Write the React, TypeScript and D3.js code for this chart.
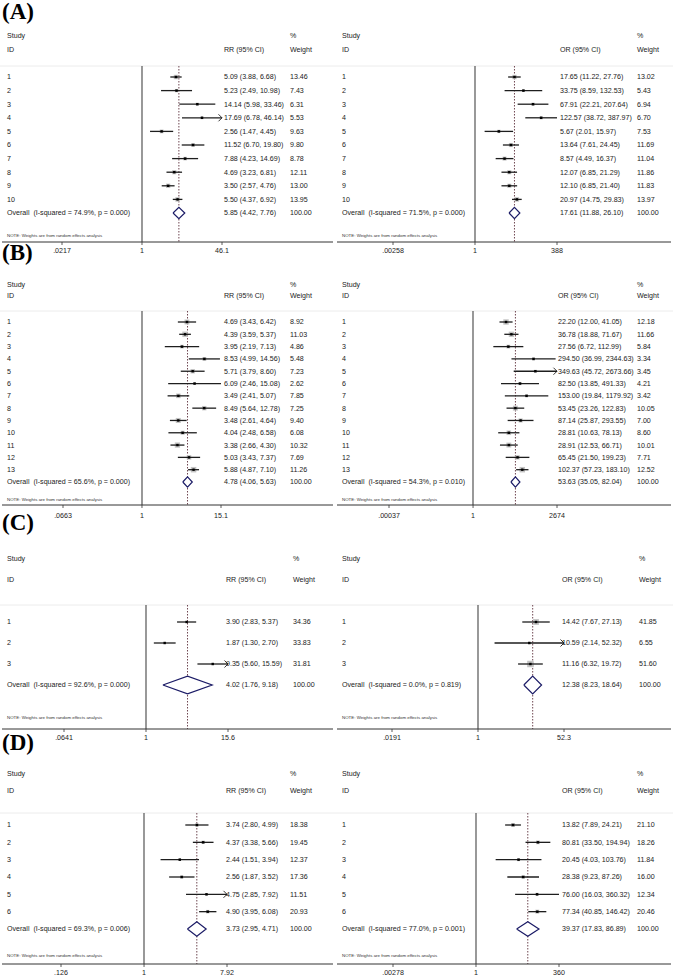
import React from "react";
import * as d3 from "d3";

// ---- (A) ----
const studiesA = ["1", "2", "3", "4", "5", "6", "7", "8", "9", "10"];
const rrA = [5.09, 5.23, 14.14, 17.69, 2.56, 11.52, 7.88, 4.69, 3.5, 5.5];
const rrLoA = [3.88, 2.49, 5.98, 6.78, 1.47, 6.7, 4.23, 3.23, 2.57, 4.37];
const rrHiA = [6.68, 10.98, 33.46, 46.14, 4.45, 19.8, 14.69, 6.81, 4.76, 6.92];
const rrWtA = [13.46, 7.43, 6.31, 5.53, 9.63, 9.8, 8.78, 12.11, 13.0, 13.95];
const rrOverallA = [5.85, 4.42, 7.76];
const rrHetA = ["74.9%", "0.000"];
const rrTicksA = [".0217", "1", "46.1"];
const rrArrowsA = ["4"];

const orA = [17.65, 33.75, 67.91, 122.57, 5.67, 13.64, 8.57, 12.07, 12.1, 20.97];
const orLoA = [11.22, 8.59, 22.21, 38.72, 2.01, 7.61, 4.49, 6.85, 6.85, 14.75];
const orHiA = [27.76, 132.53, 207.64, 387.97, 15.97, 24.45, 16.37, 21.29, 21.4, 29.83];
const orWtA = [13.02, 5.43, 6.94, 6.7, 7.53, 11.69, 11.04, 11.86, 11.83, 13.97];
const orOverallA = [17.61, 11.88, 26.1];
const orHetA = ["71.5%", "0.000"];
const orTicksA = [".00258", "1", "388"];
const orArrowsA: string[] = [];

// ---- (B) ----
const studiesB = ["1", "2", "3", "4", "5", "6", "7", "8", "9", "10", "11", "12", "13"];
const rrB = [4.69, 4.39, 3.95, 8.53, 5.71, 6.09, 3.49, 8.49, 3.48, 4.04, 3.38, 5.03, 5.88];
const rrLoB = [3.43, 3.59, 2.19, 4.99, 3.79, 2.46, 2.41, 5.64, 2.61, 2.48, 2.66, 3.43, 4.87];
const rrHiB = [6.42, 5.37, 7.13, 14.56, 8.6, 15.08, 5.07, 12.78, 4.64, 6.58, 4.3, 7.37, 7.1];
const rrWtB = [8.92, 11.03, 4.86, 5.48, 7.23, 2.62, 7.85, 7.25, 9.4, 6.08, 10.32, 7.69, 11.26];
const rrOverallB = [4.78, 4.06, 5.63];
const rrHetB = ["65.6%", "0.000"];
const rrTicksB = [".0663", "1", "15.1"];
const rrArrowsB: string[] = [];

const orB = [22.2, 36.78, 27.56, 294.5, 349.63, 82.5, 153.0, 53.45, 87.14, 28.81, 28.91, 65.45, 102.37];
const orLoB = [12.0, 18.88, 6.72, 36.99, 45.72, 13.85, 19.84, 23.26, 25.87, 10.63, 12.53, 21.5, 57.23];
const orHiB = [41.05, 71.67, 112.99, 2344.63, 2673.66, 491.33, 1179.92, 122.83, 293.55, 78.13, 66.71, 199.23, 183.1];
const orWtB = [12.18, 11.66, 5.84, 3.34, 3.45, 4.21, 3.42, 10.05, 7.0, 8.6, 10.01, 7.71, 12.52];
const orOverallB = [53.63, 35.05, 82.04];
const orHetB = ["54.3%", "0.010"];
const orTicksB = [".00037", "1", "2674"];
const orArrowsB = ["5"];

// ---- (C) ----
const studiesC = ["1", "2", "3"];
const rrC = [3.9, 1.87, 9.35];
const rrLoC = [2.83, 1.3, 5.6];
const rrHiC = [5.37, 2.7, 15.59];
const rrWtC = [34.36, 33.83, 31.81];
const rrOverallC = [4.02, 1.76, 9.18];
const rrHetC = ["92.6%", "0.000"];
const rrTicksC = [".0641", "1", "15.6"];
const rrArrowsC = ["3"];

const orC = [14.42, 10.59, 11.16];
const orLoC = [7.67, 2.14, 6.32];
const orHiC = [27.13, 52.32, 19.72];
const orWtC = [41.85, 6.55, 51.6];
const orOverallC = [12.38, 8.23, 18.64];
const orHetC = ["0.0%", "0.819"];
const orTicksC = [".0191", "1", "52.3"];
const orArrowsC = ["2"];

// ---- (D) ----
const studiesD = ["1", "2", "3", "4", "5", "6"];
const rrD = [3.74, 4.37, 2.44, 2.56, 4.75, 4.9];
const rrLoD = [2.8, 3.38, 1.51, 1.87, 2.85, 3.95];
const rrHiD = [4.99, 5.66, 3.94, 3.52, 7.92, 6.08];
const rrWtD = [18.38, 19.45, 12.37, 17.36, 11.51, 20.93];
const rrOverallD = [3.73, 2.95, 4.71];
const rrHetD = ["69.3%", "0.006"];
const rrTicksD = [".126", "1", "7.92"];
const rrArrowsD = ["5"];

const orD = [13.82, 80.81, 20.45, 28.38, 76.0, 77.34];
const orLoD = [7.89, 33.5, 4.03, 9.23, 16.03, 40.85];
const orHiD = [24.21, 194.94, 103.76, 87.26, 360.32, 146.42];
const orWtD = [21.1, 18.26, 11.84, 16.0, 12.34, 20.46];
const orOverallD = [39.37, 17.83, 86.89];
const orHetD = ["77.0%", "0.001"];
const orTicksD = [".00278", "1", "360"];
const orArrowsD: string[] = [];

const SANS = "Liberation Sans, Arial, Helvetica, sans-serif";
const FS = 7.1;

type Layout = {
  x0: number; width: number; cx: number; span: number; estX: number; wX: number;
  studyY: number; idY: number; sepY: number; rowTop: number; rowBottom: number;
  axisY: number; noteY: number; tickY: number; boxMax: number;
};

type PanelData = {
  measure: string; ids: string[]; est: number[]; lo: number[]; hi: number[]; wt: number[];
  overall: number[]; het: string[]; ticks: string[]; arrows: string[];
};

function ForestPanel({ d, l }: { d: PanelData; l: Layout }) {
  const tickVals = d.ticks.map(Number);
  const x = d3.scaleLog()
    .domain([tickVals[0], tickVals[2]])
    .range([l.cx - l.span, l.cx + l.span])
    .clamp(true);
  const rows = [...d.ids, "Overall"];
  const y = d3.scalePoint<string>().domain(rows).range([l.rowTop, l.rowBottom]);
  const step = y.step();
  const maxW = d3.max(d.wt) as number;
  const box = d3.scaleSqrt().domain([0, maxW]).range([0, l.boxMax]);
  const f = d3.format(".2f");
  const [oe, ol, oh] = d.overall;
  const oy = y("Overall") as number;
  const dh = step * 0.42;
  const diamond = d3.line()([
    [x(ol), oy], [x(oe), oy - dh], [x(oh), oy], [x(oe), oy + dh], [x(ol), oy],
  ]);
  const tx = l.x0 + 7;
  const text = { fontFamily: SANS, fontSize: FS, fill: "#222" } as const;

  return (
    <g>
      <text x={tx} y={l.studyY} dy="0.35em" {...text}>Study</text>
      <text x={tx} y={l.idY} dy="0.35em" {...text}>ID</text>
      <text x={l.estX} y={l.idY} dy="0.35em" {...text}>{d.measure} (95% CI)</text>
      <text x={l.wX} y={l.studyY} dy="0.35em" {...text}>%</text>
      <text x={l.wX} y={l.idY} dy="0.35em" {...text}>Weight</text>
      <line x1={l.x0} x2={l.x0 + l.width} y1={l.sepY} y2={l.sepY} stroke="#ececec" strokeWidth={1} />

      <line x1={l.cx} x2={l.cx} y1={l.sepY} y2={l.axisY} stroke="#444" strokeWidth={1.1} />
      <line x1={x(oe)} x2={x(oe)} y1={l.sepY} y2={l.axisY} stroke="#6e4650" strokeWidth={1}
        strokeDasharray="1.5,1.5" />

      {d.ids.map((id, i) => {
        const yy = y(id) as number;
        const x1 = x(d.lo[i]);
        const x2 = x(d.hi[i]);
        const xe = x(d.est[i]);
        const s = box(d.wt[i]);
        const arrow = d.arrows.includes(id);
        return (
          <g key={id}>
            <rect x={xe - s / 2} y={yy - s / 2} width={s} height={s} fill="#c4c4c4" />
            <line x1={x1} x2={x2} y1={yy} y2={yy} stroke="#1e1e1e" strokeWidth={1.3} />
            {arrow && (
              <path d={`M${x2 - 3.5},${yy - 3.5}L${x2},${yy}L${x2 - 3.5},${yy + 3.5}`}
                fill="none" stroke="#1e1e1e" strokeWidth={0.9} />
            )}
            <rect x={xe - 1.2} y={yy - 1.2} width={2.4} height={2.4} fill="#000" />
            <text x={tx} y={yy} dy="0.35em" {...text}>{id}</text>
            <text x={l.estX} y={yy} dy="0.35em" {...text}>
              {`${f(d.est[i])} (${f(d.lo[i])}, ${f(d.hi[i])})`}
            </text>
            <text x={l.wX} y={yy} dy="0.35em" {...text}>{f(d.wt[i])}</text>
          </g>
        );
      })}

      <path d={diamond as string} fill="#fff" stroke="#1b1b66" strokeWidth={1.2} />
      <text x={tx} y={oy} dy="0.35em" {...text} style={{ whiteSpace: "pre" }}>
        {`Overall  (I-squared = ${d.het[0]}, p = ${d.het[1]})`}
      </text>
      <text x={l.estX} y={oy} dy="0.35em" {...text}>{`${f(oe)} (${f(ol)}, ${f(oh)})`}</text>
      <text x={l.wX} y={oy} dy="0.35em" {...text}>100.00</text>

      <text x={tx} y={l.noteY} dy="0.35em" fontFamily={SANS} fontSize={4.4} fill="#333">
        NOTE: Weights are from random effects analysis
      </text>
      <line x1={l.x0 + 2} x2={l.x0 + l.width - 2} y1={l.axisY} y2={l.axisY} stroke="#333" strokeWidth={1} />
      {d.ticks.map((t, i) => (
        <g key={t} transform={`translate(${x(tickVals[i])},${l.axisY})`}>
          <line y1={0} y2={3} stroke="#333" strokeWidth={0.8} />
          <text y={l.tickY - l.axisY} dy="0.35em" textAnchor="middle" {...text}>{t}</text>
        </g>
      ))}
    </g>
  );
}

const mk = (
  measure: string, ids: string[], est: number[], lo: number[], hi: number[], wt: number[],
  overall: number[], het: string[], ticks: string[], arrows: string[],
): PanelData => ({ measure, ids, est, lo, hi, wt, overall, het, ticks, arrows });

const panels: { d: PanelData; l: Layout }[] = [
  {
    d: mk("RR", studiesA, rrA, rrLoA, rrHiA, rrWtA, rrOverallA, rrHetA, rrTicksA, rrArrowsA),
    l: { x0: 0, width: 335, cx: 142, span: 80, estX: 224, wX: 290, studyY: 36, idY: 50, sepY: 66,
      rowTop: 77, rowBottom: 213, axisY: 242, noteY: 235, tickY: 251, boxMax: 4.5 },
  },
  {
    d: mk("OR", studiesA, orA, orLoA, orHiA, orWtA, orOverallA, orHetA, orTicksA, orArrowsA),
    l: { x0: 335, width: 338, cx: 475, span: 82, estX: 560, wX: 637, studyY: 36, idY: 50, sepY: 66,
      rowTop: 77, rowBottom: 213, axisY: 242, noteY: 235, tickY: 251, boxMax: 4.5 },
  },
  {
    d: mk("RR", studiesB, rrB, rrLoB, rrHiB, rrWtB, rrOverallB, rrHetB, rrTicksB, rrArrowsB),
    l: { x0: 0, width: 335, cx: 142, span: 79, estX: 224, wX: 290, studyY: 285, idY: 296, sepY: 311,
      rowTop: 322, rowBottom: 482, axisY: 505, noteY: 499, tickY: 516, boxMax: 5.5 },
  },
  {
    d: mk("OR", studiesB, orB, orLoB, orHiB, orWtB, orOverallB, orHetB, orTicksB, orArrowsB),
    l: { x0: 335, width: 338, cx: 473, span: 84, estX: 558, wX: 637, studyY: 285, idY: 296, sepY: 311,
      rowTop: 322, rowBottom: 482, axisY: 505, noteY: 499, tickY: 516, boxMax: 5.5 },
  },
  {
    d: mk("RR", studiesC, rrC, rrLoC, rrHiC, rrWtC, rrOverallC, rrHetC, rrTicksC, rrArrowsC),
    l: { x0: 0, width: 335, cx: 146, span: 82, estX: 226, wX: 293, studyY: 559, idY: 580, sepY: 605,
      rowTop: 622, rowBottom: 685, axisY: 729, noteY: 717, tickY: 738, boxMax: 0 },
  },
  {
    d: mk("OR", studiesC, orC, orLoC, orHiC, orWtC, orOverallC, orHetC, orTicksC, orArrowsC),
    l: { x0: 335, width: 338, cx: 478, span: 86, estX: 562, wX: 639, studyY: 559, idY: 580, sepY: 605,
      rowTop: 622, rowBottom: 685, axisY: 729, noteY: 717, tickY: 738, boxMax: 6.5 },
  },
  {
    d: mk("RR", studiesD, rrD, rrLoD, rrHiD, rrWtD, rrOverallD, rrHetD, rrTicksD, rrArrowsD),
    l: { x0: 0, width: 335, cx: 144, span: 83, estX: 226, wX: 290, studyY: 774, idY: 791, sepY: 813,
      rowTop: 825, rowBottom: 929, axisY: 964, noteY: 955, tickY: 973, boxMax: 3.5 },
  },
  {
    d: mk("OR", studiesD, orD, orLoD, orHiD, orWtD, orOverallD, orHetD, orTicksD, orArrowsD),
    l: { x0: 335, width: 338, cx: 476, span: 83, estX: 562, wX: 637, studyY: 774, idY: 791, sepY: 813,
      rowTop: 825, rowBottom: 929, axisY: 964, noteY: 955, tickY: 973, boxMax: 4 },
  },
];

const panelLabels = ["(A)", "(B)", "(C)", "(D)"];
const labelY = [11, 252, 522, 742];

export default function App() {
  return (
    <svg width={675} height={977} fontFamily={SANS}
      style={{ position: "absolute", left: 0, top: 0, background: "#fff" }}>
      <rect width={675} height={977} fill="#fff" />
      {panels.map((p, i) => <ForestPanel key={i} d={p.d} l={p.l} />)}
      {panelLabels.map((t, i) => (
        <text key={t} x={2} y={labelY[i]} dy="0.35em" fontFamily="Liberation Serif, Times New Roman, serif"
          fontWeight="bold" fontSize={23} fill="#000">{t}</text>
      ))}
    </svg>
  );
}
